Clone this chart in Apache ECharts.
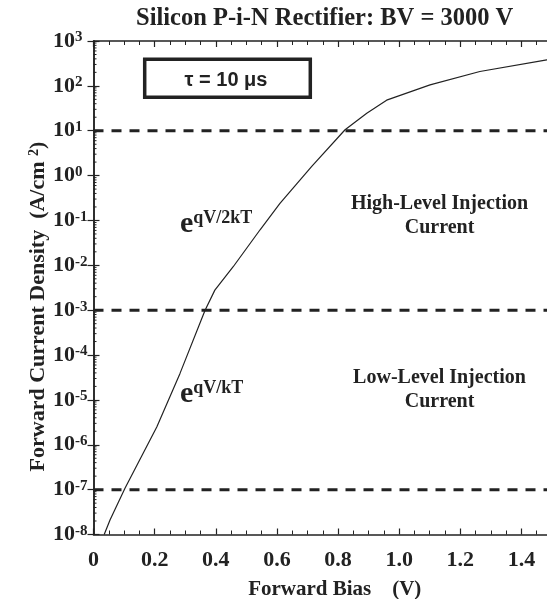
<!DOCTYPE html>
<html>
<head>
<meta charset="utf-8">
<script src="https://cdn.jsdelivr.net/npm/echarts@6/dist/echarts.min.js"></script>
<style>
  html, body { margin: 0; padding: 0; background: #fff; }
  #chart { width: 547px; height: 599px; }
</style>
</head>
<body>
<div id="chart"></div>
<script>
// ---- data ----
const biasV = [0.035, 0.054, 0.103, 0.207, 0.283, 0.365, 0.397, 0.457, 0.545, 0.610, 0.714, 0.823, 0.894, 0.959, 1.101, 1.264, 1.483, 1.5];
const currentDensity = [1e-8, 2.1e-8, 1.07e-7, 2.5e-6, 3.9e-5, 1.0e-3, 2.8e-3, 9.3e-3, 6.2e-2, 0.24, 1.6, 10.5, 24.5, 48, 105, 209, 380, 395];
const boundaryLevels = [10, 1e-3, 1e-7];
const xRange = [0, 1.5];
const decadeExponents = [-8, -7, -6, -5, -4, -3, -2, -1, 0, 1, 2];
const minorMultipliers = [2, 3, 4, 5, 6, 7, 8, 9];

const titleText = 'Silicon P-i-N Rectifier: BV = 3000 V';
const xName = 'Forward Bias    (V)';
const ink = '#222';
const serif = '"Liberation Serif", "Times New Roman", serif';

const curve = biasV.map((v, i) => [v, currentDensity[i]]);
const minorTickData = [];
decadeExponents.forEach(e => minorMultipliers.forEach(m => minorTickData.push([0, m * Math.pow(10, e)])));

const chart = echarts.init(document.getElementById('chart'), null, { renderer: 'canvas' });

const xAxisBase = {
  type: 'value', min: xRange[0], max: xRange[1], interval: 0.2,
  axisLine: { show: true, lineStyle: { color: ink, width: 1.5 } },
  axisTick: { show: true, inside: true, length: 6, lineStyle: { color: ink, width: 1.2 } },
  minorTick: { show: true, splitNumber: 4, length: 4, lineStyle: { color: ink, width: 1 } },
  splitLine: { show: false }
};
const yAxisBase = {
  type: 'log', logBase: 10, min: 1e-8, max: 1e3, interval: 1, splitNumber: 11,
  axisLine: { show: true, lineStyle: { color: ink, width: 1.5 } },
  axisTick: { show: true, inside: true, length: 6, lineStyle: { color: ink, width: 1.2 } },
  splitLine: { show: false }
};

const dashedSeries = boundaryLevels.map(v => ({
  type: 'line', data: [[xRange[0], v], [xRange[1], v]], showSymbol: false, symbol: 'none',
  silent: true, lineStyle: { color: ink, width: 3, type: [10, 8] }, z: 3
}));

chart.setOption({
  animation: false,
  backgroundColor: '#fff',
  title: {
    text: titleText, left: 136, top: 6, padding: 0,
    textStyle: { fontFamily: serif, fontWeight: 'bold', fontSize: 24.5, color: ink }
  },
  grid: { left: 93.5, top: 41, width: 458.5, height: 493.5, containLabel: false, outerBoundsMode: 'none' },
  xAxis: [
    Object.assign({}, xAxisBase, {
      position: 'bottom',
      name: xName, nameLocation: 'middle', nameGap: 45,
      nameTextStyle: { fontFamily: serif, fontWeight: 'bold', fontSize: 21, color: ink, padding: [0, 0, 0, 24] },
      axisLabel: {
        show: true, margin: 15, showMaxLabel: false,
        fontFamily: serif, fontWeight: 'bold', fontSize: 22, color: ink,
        formatter: v => (v === 0 ? '0' : v.toFixed(1))
      }
    }),
    Object.assign({}, xAxisBase, { position: 'top', axisLabel: { show: false } })
  ],
  yAxis: [
    Object.assign({}, yAxisBase, {
      position: 'left',
      axisLabel: {
        show: true, margin: 6,
        formatter: v => {
          const e = Math.round(Math.log10(v));
          return e < 0 ? '{b|10}{s|' + e + '}' : '{b|10}{p|' + e + '}';
        },
        rich: {
          b: { fontFamily: serif, fontWeight: 'bold', fontSize: 22, lineHeight: 22, color: ink },
          s: { fontFamily: serif, fontWeight: 'bold', fontSize: 15, lineHeight: 10, verticalAlign: 'top', color: ink },
          p: { fontFamily: serif, fontWeight: 'bold', fontSize: 15, lineHeight: 10, verticalAlign: 'top', color: ink, padding: [0, 5, 0, 0] }
        }
      }
    }),
    Object.assign({}, yAxisBase, { position: 'right', axisLabel: { show: false } })
  ],
  series: [
    {
      type: 'line', data: curve, showSymbol: false, symbol: 'none', smooth: false,
      lineStyle: { color: ink, width: 1.2 }, z: 4
    }
  ].concat(dashedSeries).concat([
    {
      type: 'custom', data: minorTickData, clip: false, silent: true,
      encode: { x: 0, y: 1 },
      renderItem: (params, api) => {
        const y = api.value(1);
        const pL = api.coord([xRange[0], y]);
        const pR = api.coord([xRange[1], y]);
        return {
          type: 'group', children: [
            { type: 'line', shape: { x1: pL[0], y1: pL[1], x2: pL[0] + 3, y2: pL[1] }, style: { stroke: ink, lineWidth: 1 } },
            { type: 'line', shape: { x1: pR[0], y1: pR[1], x2: pR[0] - 3, y2: pR[1] }, style: { stroke: ink, lineWidth: 1 } }
          ]
        };
      }
    }
  ]),
  graphic: [
    { type: 'rect', shape: { x: 144.7, y: 59.3, width: 165.6, height: 38 }, style: { fill: 'none', stroke: ink, lineWidth: 3.5 } },
    { type: 'text', x: 226, y: 80, style: { text: 'τ = 10 μs', fill: ink, font: 'bold 20px "Liberation Sans", Arial, sans-serif', textAlign: 'center', textVerticalAlign: 'middle', align: 'center', verticalAlign: 'middle' } },
    { type: 'text', x: 180, y: 224, style: {
        text: '{e|e}{s|qV/2kT}', textAlign: 'left', textVerticalAlign: 'middle', align: 'left', verticalAlign: 'middle',
        rich: {
          e: { fontFamily: serif, fontWeight: 'bold', fontSize: 30, lineHeight: 30, fill: ink },
          s: { fontFamily: serif, fontWeight: 'bold', fontSize: 18, lineHeight: 18, verticalAlign: 'top', fill: ink }
        } } },
    { type: 'text', x: 180, y: 394.5, style: {
        text: '{e|e}{s|qV/kT}', textAlign: 'left', textVerticalAlign: 'middle', align: 'left', verticalAlign: 'middle',
        rich: {
          e: { fontFamily: serif, fontWeight: 'bold', fontSize: 30, lineHeight: 30, fill: ink },
          s: { fontFamily: serif, fontWeight: 'bold', fontSize: 18, lineHeight: 18, verticalAlign: 'top', fill: ink }
        } } },
    { type: 'text', x: 439.5, y: 215.7, style: { text: 'High-Level Injection\nCurrent', fill: ink, font: 'bold 20px ' + serif, lineHeight: 24, textAlign: 'center', textVerticalAlign: 'middle', align: 'center', verticalAlign: 'middle' } },
    { type: 'text', x: 439.5, y: 390, style: { text: 'Low-Level Injection\nCurrent', fill: ink, font: 'bold 20px ' + serif, lineHeight: 24, textAlign: 'center', textVerticalAlign: 'middle', align: 'center', verticalAlign: 'middle' } },
    { type: 'text', x: 38, y: 306.5, rotation: Math.PI / 2, style: {
        text: 'Forward Current Density  (A/cm {s|2})', fill: ink, font: 'bold 22px ' + serif,
        textAlign: 'center', textVerticalAlign: 'middle', align: 'center', verticalAlign: 'middle',
        rich: { s: { fontFamily: serif, fontWeight: 'bold', fontSize: 14, lineHeight: 22, verticalAlign: 'top', fill: ink, padding: [0, 0, 8, 0] } }
      } }
  ]
});
</script>
</body>
</html>
